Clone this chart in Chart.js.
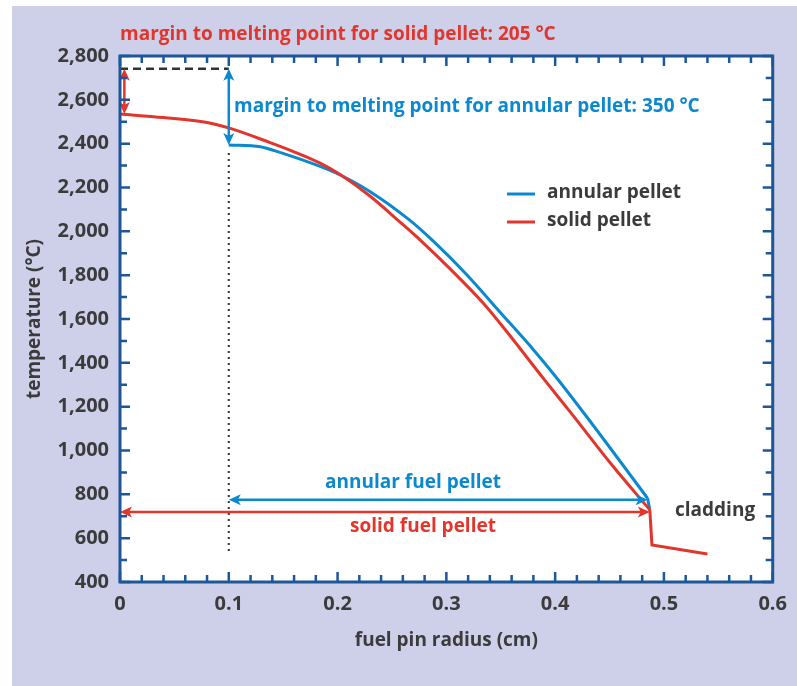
<!DOCTYPE html>
<html>
<head>
<meta charset="utf-8">
<script src="https://cdn.jsdelivr.net/npm/chart.js@4.4.1/dist/chart.umd.min.js"></script>
<style>
  html, body { margin: 0; padding: 0; background: #ffffff; }
  #panel { position: absolute; left: 12px; top: 6px; width: 785px; height: 680px; background: #cdd0e8; }
  canvas { display: block; }
</style>
</head>
<body>
<div id="panel"><canvas id="chart" width="785" height="680"></canvas></div>
<script>
// Temperatur i brenselstav, lest av figuren (radius i cm, temperatur i °C)
const solidRadius = [0, 0.04, 0.08, 0.1, 0.138, 0.16, 0.184, 0.202, 0.23, 0.257, 0.276, 0.303, 0.334, 0.358, 0.389, 0.414, 0.453, 0.487];
const solidTemp   = [2535, 2519, 2497, 2472, 2405, 2363, 2311, 2260, 2160, 2044, 1960, 1831, 1672, 1527, 1330, 1175, 929, 729];

// Kapslingen (fall i temperatur over gap og kapsling)
const claddingRadius = [0.487, 0.489, 0.54];
const claddingTemp   = [729, 569, 528];

const annularRadius = [0.1, 0.129, 0.14, 0.199, 0.23, 0.266, 0.288, 0.319, 0.349, 0.38, 0.4, 0.429, 0.485];
const annularTemp   = [2394, 2386, 2371, 2265, 2181, 2052, 1955, 1801, 1633, 1460, 1340, 1154, 782];
const annularEndRadius = [0.485, 0.487];
const annularEndTemp   = [782, 729];

// Markeringer i figuren
const meltingPoint = 2742;
const innerRadius = 0.1;
const pelletRadius = 0.487;
const annularArrowTemp = 775;
const solidArrowTemp = 719;
const dottedBottom = 525;

const seriesLabels = ['annular pellet', 'solid pellet'];
const titleText = 'margin to melting point for solid pellet: 205 °C';
const annularMarginText = 'margin to melting point for annular pellet: 350 °C';

const RED = '#e2352b';
const BLUE = '#0a88d0';
const AXIS = '#1d5699';
const TEXT = '#3b3b3b';
const FONT = '"Open Sans", Roboto, sans-serif';

function toPoints(xs, ys) {
    return xs.map((x, i) => ({ x: x, y: ys[i] }));
}

function lineSet(label, xs, ys, color, mode) {
    return {
        label: label,
        data: toPoints(xs, ys),
        showLine: true,
        borderColor: color,
        borderWidth: 3,
        pointRadius: 0,
        tension: 0,
        cubicInterpolationMode: mode
    };
}

function arrowHead(ctx, x, y, angle, color) {
    ctx.save();
    ctx.translate(x, y);
    ctx.rotate(angle);
    ctx.beginPath();
    ctx.moveTo(0, 0);
    ctx.lineTo(-12, -5.5);
    ctx.lineTo(-9, 0);
    ctx.lineTo(-12, 5.5);
    ctx.closePath();
    ctx.fillStyle = color;
    ctx.fill();
    ctx.restore();
}

function doubleArrow(ctx, x1, y1, x2, y2, color) {
    const a = Math.atan2(y2 - y1, x2 - x1);
    ctx.save();
    ctx.strokeStyle = color;
    ctx.lineWidth = 2.5;
    ctx.beginPath();
    ctx.moveTo(x1 + Math.cos(a) * 6, y1 + Math.sin(a) * 6);
    ctx.lineTo(x2 - Math.cos(a) * 6, y2 - Math.sin(a) * 6);
    ctx.stroke();
    ctx.restore();
    arrowHead(ctx, x2, y2, a, color);
    arrowHead(ctx, x1, y1, a + Math.PI, color);
}

// Tegner ramme, innoverrettede tikk, piler, tekst og forklaring
const decorations = {
    id: 'decorations',
    beforeDatasetsDraw(chart) {
        const { ctx, chartArea: a } = chart;
        ctx.save();
        ctx.fillStyle = '#ffffff';
        ctx.fillRect(a.left, a.top, a.right - a.left, a.bottom - a.top);
        ctx.restore();
    },
    afterDatasetsDraw(chart) {
        const { ctx, chartArea: a, scales } = chart;
        const xs = scales.x, ys = scales.y;
        const px = v => xs.getPixelForValue(v);
        const py = v => ys.getPixelForValue(v);

        ctx.save();

        // stiplet linje for smeltepunkt
        ctx.strokeStyle = '#333333';
        ctx.lineWidth = 2.5;
        ctx.setLineDash([8, 5]);
        ctx.beginPath();
        ctx.moveTo(px(0), py(meltingPoint));
        ctx.lineTo(px(innerRadius), py(meltingPoint));
        ctx.stroke();

        // prikket linje ved indre radius
        ctx.lineWidth = 2;
        ctx.setLineDash([2, 4]);
        ctx.beginPath();
        ctx.moveTo(px(innerRadius), py(annularTemp[0]) + 8);
        ctx.lineTo(px(innerRadius), py(dottedBottom));
        ctx.stroke();
        ctx.setLineDash([]);

        // marginpiler
        doubleArrow(ctx, px(0.004), py(meltingPoint), px(0.004), py(solidTemp[0]), RED);
        doubleArrow(ctx, px(innerRadius), py(meltingPoint), px(innerRadius), py(annularTemp[0]), BLUE);

        // pelletbredde
        doubleArrow(ctx, px(innerRadius), py(annularArrowTemp), px(pelletRadius - 0.002), py(annularArrowTemp), BLUE);
        doubleArrow(ctx, px(0), py(solidArrowTemp), px(pelletRadius), py(solidArrowTemp), RED);

        // ramme
        ctx.strokeStyle = AXIS;
        ctx.lineWidth = 3;
        ctx.strokeRect(a.left, a.top, a.right - a.left, a.bottom - a.top);

        // tikk på alle fire sider
        ctx.lineWidth = 2.5;
        ctx.beginPath();
        const xt = xs.ticks.map(t => t.value);
        for (let i = 0; i < xt.length; i++) {
            const x = px(xt[i]);
            ctx.moveTo(x, a.bottom); ctx.lineTo(x, a.bottom - 10);
            ctx.moveTo(x, a.top); ctx.lineTo(x, a.top + 10);
            if (i < xt.length - 1) {
                for (let k = 1; k < 5; k++) {
                    const xm = px(xt[i] + (xt[i + 1] - xt[i]) * k / 5);
                    ctx.moveTo(xm, a.bottom); ctx.lineTo(xm, a.bottom - 7);
                    ctx.moveTo(xm, a.top); ctx.lineTo(xm, a.top + 7);
                }
            }
        }
        const yt = ys.ticks.map(t => t.value);
        for (let i = 0; i < yt.length; i++) {
            const y = py(yt[i]);
            ctx.moveTo(a.left, y); ctx.lineTo(a.left + 10, y);
            ctx.moveTo(a.right, y); ctx.lineTo(a.right - 10, y);
            if (i < yt.length - 1) {
                const ym = py((yt[i] + yt[i + 1]) / 2);
                ctx.moveTo(a.left, ym); ctx.lineTo(a.left + 7, ym);
                ctx.moveTo(a.right, ym); ctx.lineTo(a.right - 7, ym);
            }
        }
        ctx.stroke();

        // forklaring
        ctx.lineWidth = 3;
        ctx.strokeStyle = BLUE;
        ctx.beginPath(); ctx.moveTo(495, 188); ctx.lineTo(523, 188); ctx.stroke();
        ctx.strokeStyle = RED;
        ctx.beginPath(); ctx.moveTo(495, 216); ctx.lineTo(523, 216); ctx.stroke();

        ctx.font = 'bold 19px ' + FONT;
        ctx.textBaseline = 'alphabetic';
        ctx.textAlign = 'left';
        ctx.fillStyle = TEXT;
        ctx.fillText(seriesLabels[0], 535, 191.5);
        ctx.fillText(seriesLabels[1], 535, 220);
        ctx.fillText('cladding', 663, 510);

        ctx.fillStyle = RED;
        ctx.fillText(titleText, 108, 33.5);
        ctx.fillStyle = BLUE;
        ctx.fillText(annularMarginText, 222, 105.5);

        ctx.textAlign = 'center';
        ctx.fillText('annular fuel pellet', 401, 482);
        ctx.fillStyle = RED;
        ctx.fillText('solid fuel pellet', 411, 525.5);

        ctx.restore();
    }
};

new Chart(document.getElementById('chart'), {
    type: 'scatter',
    data: {
        datasets: [
            lineSet(seriesLabels[1], solidRadius, solidTemp, RED, 'monotone'),
            lineSet(seriesLabels[1], claddingRadius, claddingTemp, RED, 'default'),
            lineSet(seriesLabels[0], annularRadius, annularTemp, BLUE, 'monotone'),
            lineSet(seriesLabels[0], annularEndRadius, annularEndTemp, BLUE, 'default')
        ]
    },
    options: {
        responsive: false,
        animation: false,
        devicePixelRatio: 1,
        layout: { padding: { top: 50, right: 24, left: 0, bottom: 0 } },
        plugins: {
            legend: { display: false },
            tooltip: { enabled: false }
        },
        scales: {
            x: {
                type: 'linear',
                min: 0,
                max: 0.6,
                grid: { display: false, drawTicks: false },
                border: { display: false },
                ticks: {
                    stepSize: 0.1,
                    padding: 10,
                    color: TEXT,
                    font: { family: FONT, size: 20, weight: 'bold' }
                },
                title: {
                    display: true,
                    text: 'fuel pin radius (cm)',
                    color: TEXT,
                    font: { family: FONT, size: 19, weight: 'bold' },
                    padding: { top: 0, bottom: 34 }
                },
                afterFit(scale) { scale.height = 104; }
            },
            y: {
                type: 'linear',
                min: 400,
                max: 2800,
                grid: { display: false, drawTicks: false },
                border: { display: false },
                ticks: {
                    stepSize: 200,
                    padding: 11,
                    color: TEXT,
                    font: { family: FONT, size: 20, weight: 'bold' }
                },
                title: {
                    display: true,
                    text: 'temperature (°C)',
                    color: TEXT,
                    font: { family: FONT, size: 19, weight: 'bold' },
                    padding: { top: 11, bottom: 0 }
                },
                afterFit(scale) { scale.width = 108; }
            }
        }
    },
    plugins: [decorations]
});
</script>
</body>
</html>
